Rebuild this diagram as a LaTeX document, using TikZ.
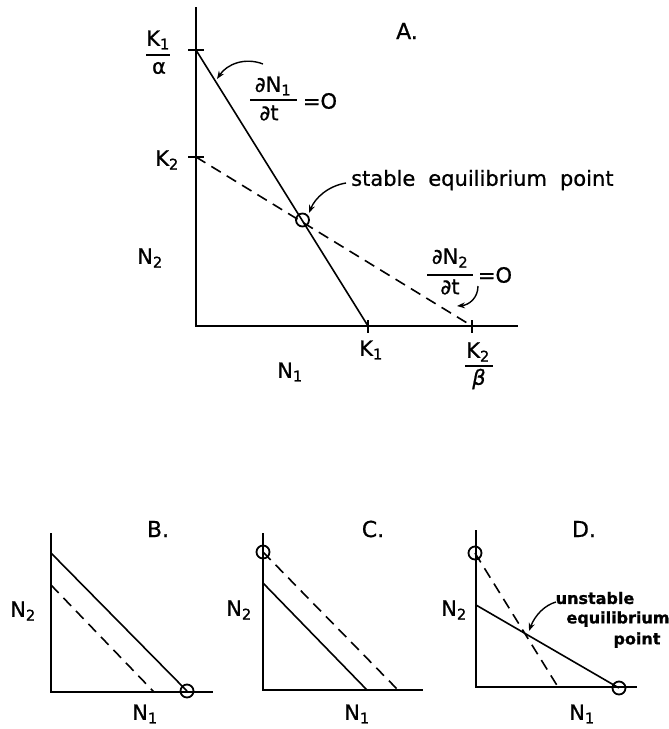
\documentclass[tikz,border=0pt]{standalone}
\usepackage{fontspec}
\setmainfont{DejaVu Sans}[FakeBold=0.8]
\usetikzlibrary{arrows.meta}
\begin{document}
\begin{tikzpicture}[x=1pt,y=-1pt,
  ax/.style={line width=2.1pt},
  ln/.style={line width=1.6pt},
  dl/.style={line width=1.6pt,dash pattern=on 11pt off 7pt},
  eqpt/.style={circle,draw,line width=1.8pt,minimum size=13pt,inner sep=0pt},
  lab/.style={font=\fontsize{21}{23}\selectfont,inner sep=0pt},
  ttl/.style={font=\fontsize{22}{24}\selectfont,inner sep=0pt},
  txt/.style={font=\fontsize{21}{24}\selectfont,inner sep=0pt},
  btxt/.style={font=\fontsize{16}{18}\selectfont\bfseries,inner sep=0pt},
  arr/.style={line width=1.4pt,-{Stealth[length=8pt,width=6pt]}},
  fbar/.style={line width=1.7pt}]
\useasboundingbox (0,0) rectangle (669,729);
% ---------------- Panel A ----------------
\coordinate (Ao) at (196,326);
\coordinate (Atop) at (196,7);
\coordinate (Aend) at (518,326);
\coordinate (Ak1a) at (196,50);
\coordinate (Ak2) at (196,157);
\coordinate (Ak1) at (368,326);
\coordinate (Ak2b) at (472,326);
\draw[ax] (Atop) -- (Ao) -- (Aend);
\draw[ln] ([xshift=-8pt]Ak1a) -- ([xshift=8pt]Ak1a);
\draw[ln] ([xshift=-8pt]Ak2) -- ([xshift=8pt]Ak2);
\draw[ln] ([yshift=6pt]Ak1) -- ([yshift=-7pt]Ak1);
\draw[ln] ([yshift=6pt]Ak2b) -- ([yshift=-7pt]Ak2b);
\draw[ln] (Ak1a) -- (Ak1);
\draw[dl] (Ak2) -- (Ak2b);
\node[eqpt] (Aeq) at (302.5,220) {};
\node[ttl] (Aname) at (407,31) {A.};
% K1/alpha
\node[lab] (Ak1anum) at (158,40) {K\textsubscript{1}};
\draw[fbar] (146,55) -- (170,55);
\node[lab] (Ak1aden) at (159,68) {α};
\node[lab] (Ak2lab) at (167,160) {K\textsubscript{2}};
\node[lab] (AN2) at (150,258) {N\textsubscript{2}};
\node[lab] (AN1) at (290,372) {N\textsubscript{1}};
\node[lab] (Ak1lab) at (371,350) {K\textsubscript{1}};
\node[lab] (Ak2bnum) at (478,352) {K\textsubscript{2}};
\draw[fbar] (465,366) -- (493,366);
\node[lab] (Ak2bden) at (479,379) {\itshape β};
% dN1/dt = 0
\node[lab] (d1num) at (273,86) {∂N\textsubscript{1}};
\draw[fbar] (250,100) -- (297,100);
\node[lab] (d1den) at (269,113) {∂t};
\node[lab] (d1eq) at (320,101) {=O};
\draw[arr] (263,64) .. controls (245,57) and (227,64) .. (217,79);
% stable equilibrium point
\node[txt,anchor=west] (stab) at (351,180) {stable\hspace{13pt}equilibrium\hspace{13pt}point};
\draw[arr] (346,183) .. controls (328,186) and (315,198) .. (309,213);
% dN2/dt = 0
\node[lab] (d2num) at (450,258) {∂N\textsubscript{2}};
\draw[fbar] (427,275) -- (473,275);
\node[lab] (d2den) at (450,287) {∂t};
\node[lab] (d2eq) at (495,275) {=O};
\draw[arr] (478,286) .. controls (478,298) and (469,305) .. (457,306);
% ---------------- Panel B ----------------
\coordinate (Bo) at (51,692);
\coordinate (Btop) at (51,533);
\coordinate (Bend) at (213,692);
\draw[ax] (Btop) -- (Bo) -- (Bend);
\coordinate (Bs1) at (51,553);
\coordinate (Bd1) at (51,585);
\coordinate (Bd2) at (154,692);
\node[eqpt] (Beq) at (187,691) {};
\draw[ln] (Bs1) -- (Beq.center);
\draw[dl] (Bd1) -- (Bd2);
\node[lab] (BN2) at (23,611) {N\textsubscript{2}};
\node[lab] (BN1) at (145,714) {N\textsubscript{1}};
\node[ttl] (Bname) at (158,529) {B.};
% ---------------- Panel C ----------------
\coordinate (Co) at (263,690);
\coordinate (Ctop) at (263,533);
\coordinate (Cend) at (423,690);
\draw[ax] (Ctop) -- (Co) -- (Cend);
\node[eqpt] (Ceq) at (263,552) {};
\coordinate (Cd2) at (398,690);
\coordinate (Cs1) at (263,583);
\coordinate (Cs2) at (367,690);
\draw[dl] (Ceq.center) -- (Cd2);
\draw[ln] (Cs1) -- (Cs2);
\node[lab] (CN2) at (239,610) {N\textsubscript{2}};
\node[lab] (CN1) at (357,714) {N\textsubscript{1}};
\node[ttl] (Cname) at (373,529) {C.};
% ---------------- Panel D ----------------
\coordinate (Do) at (476,687);
\coordinate (Dtop) at (476,530);
\coordinate (Dend) at (637,687);
\draw[ax] (Dtop) -- (Do) -- (Dend);
\node[eqpt] (Deq1) at (475,553) {};
\node[eqpt] (Deq2) at (619,688) {};
\coordinate (Dd2) at (558,687);
\coordinate (Ds1) at (476,605);
\draw[dl] (Deq1.center) -- (Dd2);
\draw[ln] (Ds1) -- (Deq2.center);
\node[lab] (DN2) at (454,610) {N\textsubscript{2}};
\node[lab] (DN1) at (582,714) {N\textsubscript{1}};
\node[ttl] (Dname) at (584,529) {D.};
\node[btxt] (Dt1) at (595,598) {unstable};
\node[btxt] (Dt2) at (618,619) {equilibrium};
\node[btxt] (Dt3) at (637,640) {point};
\draw[arr] (556,602) .. controls (545,605) and (535,615) .. (529,631);
\end{tikzpicture}
\end{document}
